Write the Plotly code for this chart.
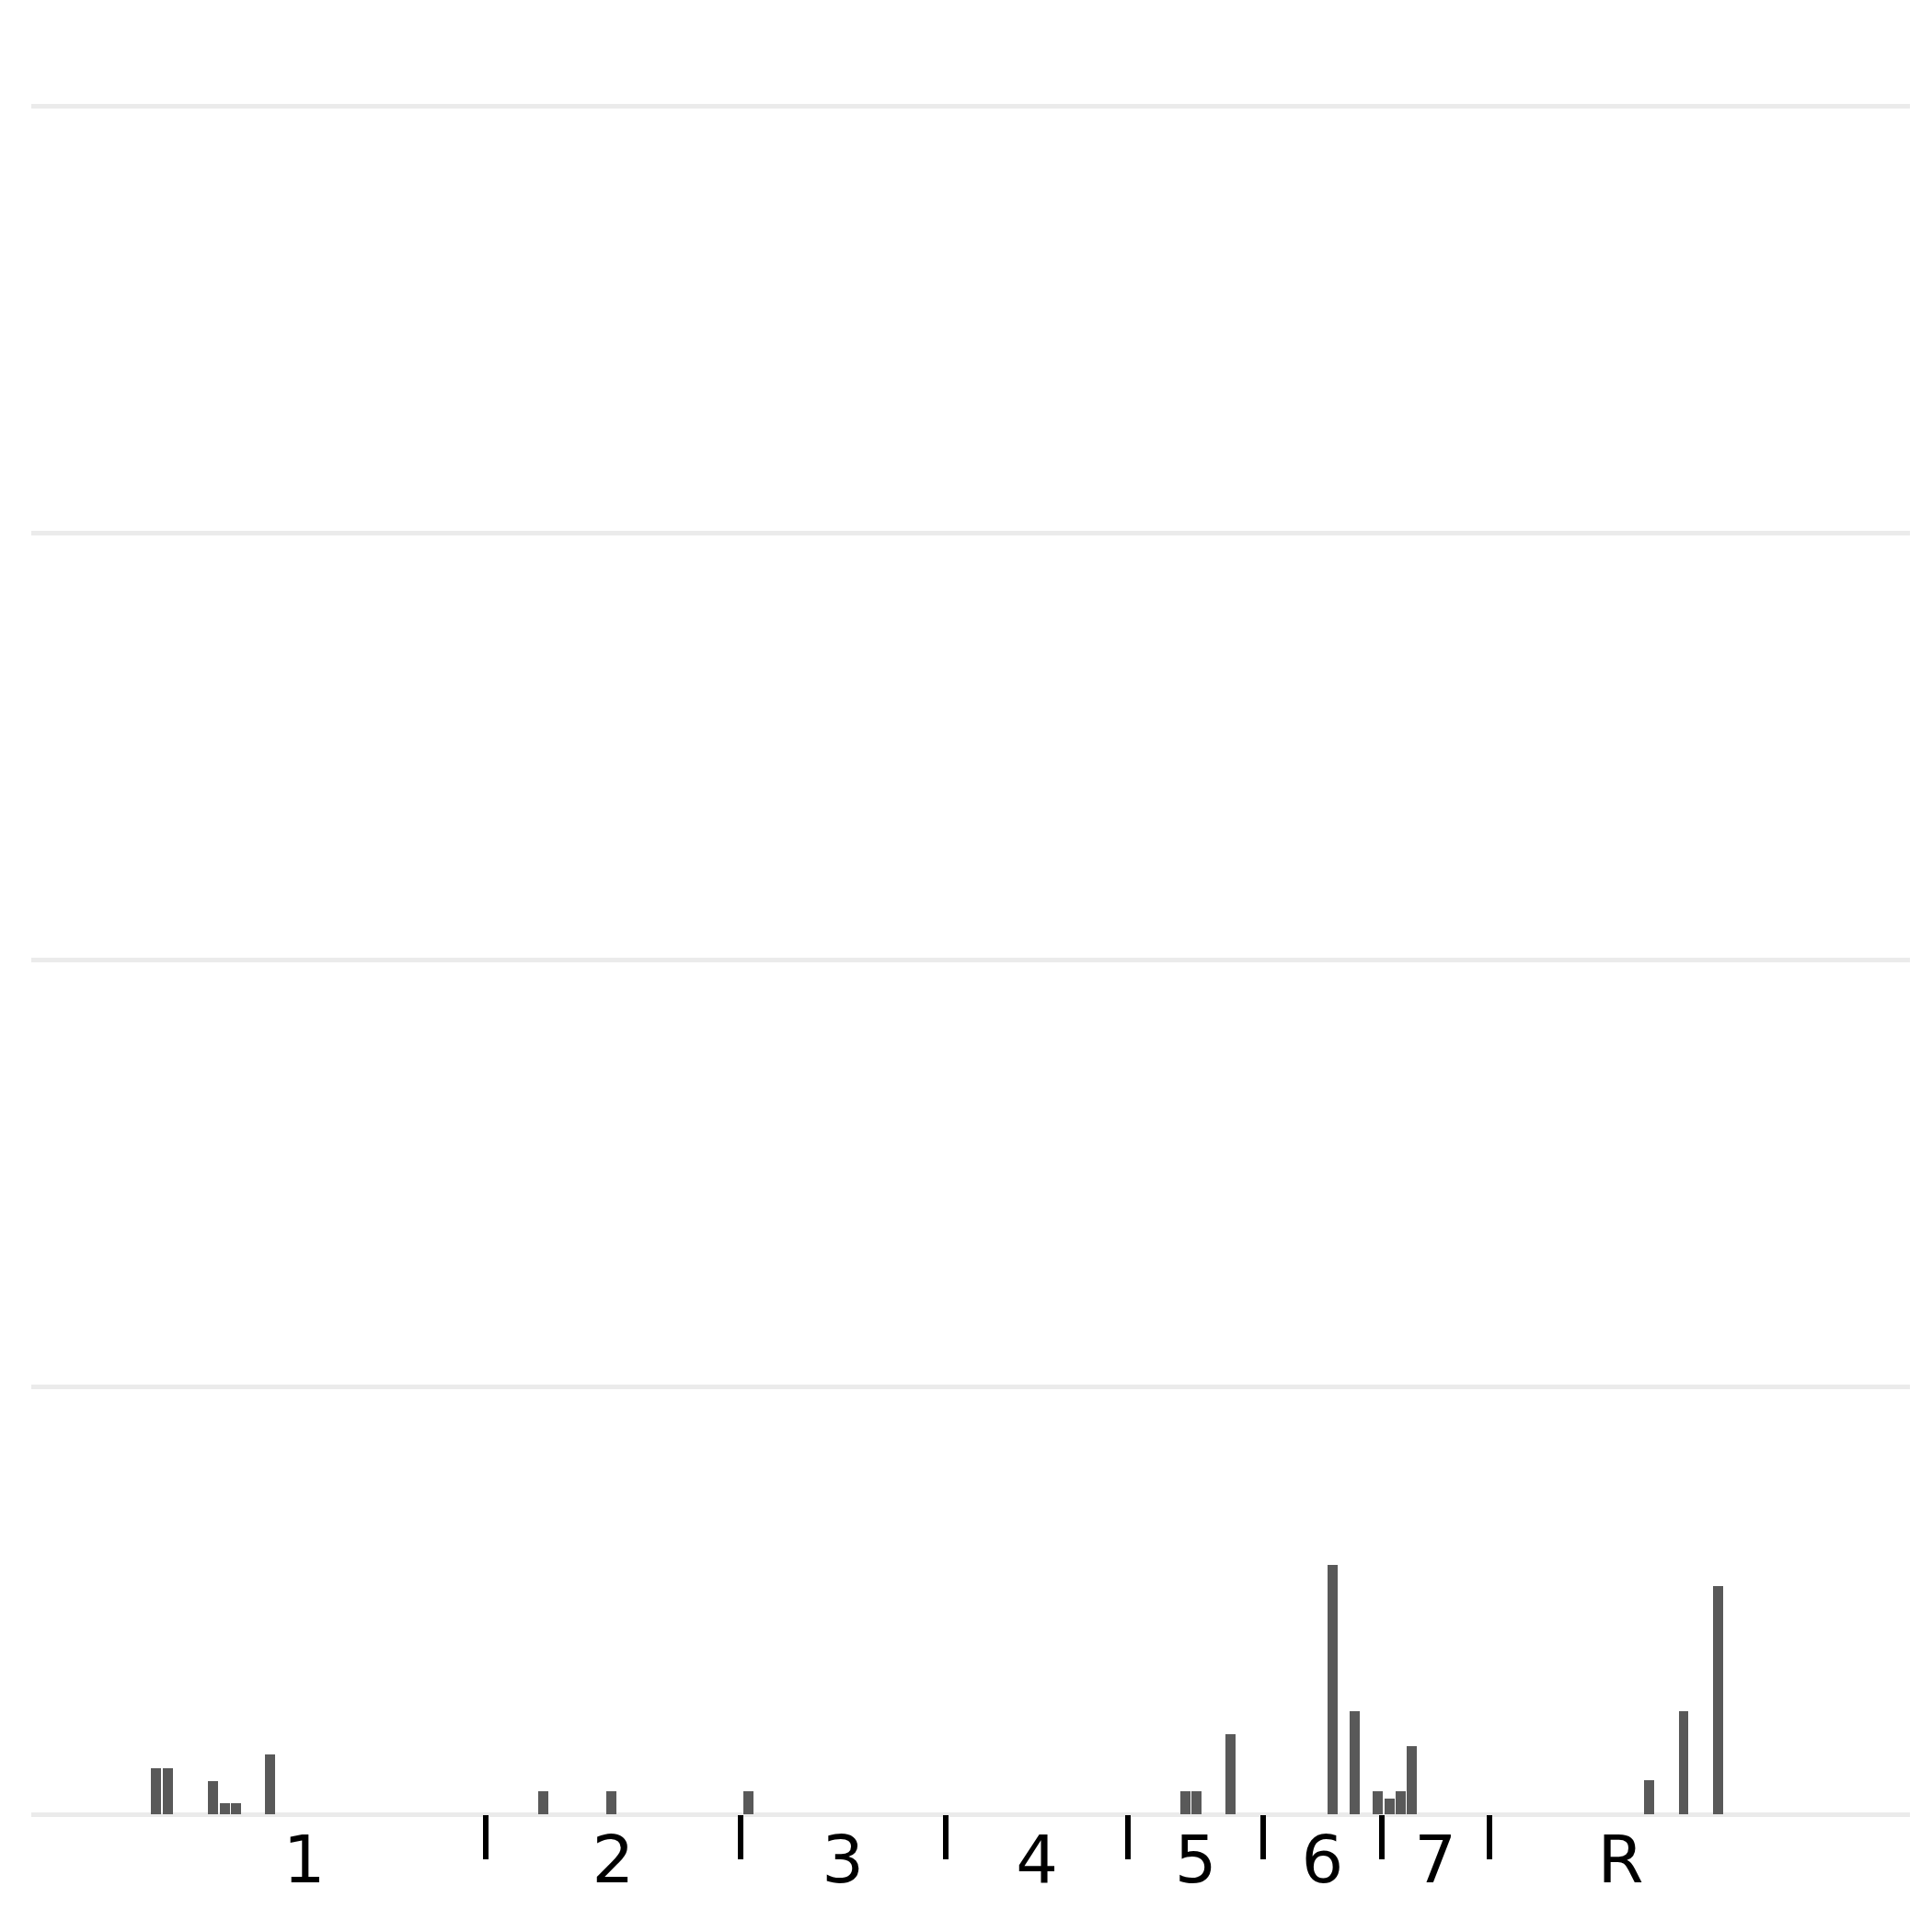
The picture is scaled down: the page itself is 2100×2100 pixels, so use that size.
import plotly.graph_objects as go

# Bar positions (x, arbitrary position units) and heights (y)
bar_x = [10.91, 11.96, 15.94, 16.96, 17.93, 20.91,
         44.88, 50.85,
         62.86,
         101.17, 102.14, 105.12,
         114.07, 116.01, 118.02,
         119.07, 120.04, 121.01,
         141.81, 144.84, 147.86]
bar_y = [1.07, 1.07, 0.78, 0.25, 0.25, 1.41,
         0.53, 0.53,
         0.53,
         0.53, 0.53, 1.87,
         5.85, 2.41, 0.53,
         0.36, 0.53, 1.59,
         0.79, 2.41, 5.34]

# Gear group boundaries along x and gear labels
group_bounds = [8.0, 39.85, 62.15, 80.15, 96.15, 108.0, 118.35, 127.8, 150.85]
gear_labels = ["1", "2", "3", "4", "5", "6", "7", "R"]

label_pos = [(a + b) / 2 for a, b in zip(group_bounds[:-1], group_bounds[1:])]
separators = group_bounds[1:-1]

X_RANGE = [0, 164.68]
Y_RANGE = [0, 42]

fig = go.Figure()
fig.add_trace(go.Bar(x=bar_x, y=bar_y, width=0.88,
                     marker=dict(color="#595959", line=dict(width=0)),
                     showlegend=False))
# invisible trace on the separator axis so that it is drawn
fig.add_trace(go.Scatter(x=[X_RANGE[0]], y=[0], xaxis="x2", mode="markers",
                         marker=dict(opacity=0), showlegend=False, hoverinfo="skip"))

fig.update_layout(
    width=2100, height=2100,
    margin=dict(l=34, r=24, t=23, b=128),
    paper_bgcolor="white", plot_bgcolor="white",
    font=dict(family="DejaVu Sans", size=72, color="black"),
    bargap=0,
    xaxis=dict(range=X_RANGE, tickvals=label_pos, ticktext=gear_labels,
               ticks="", showgrid=False, zeroline=False, showline=False,
               tickfont=dict(family="DejaVu Sans", size=72, color="black"),
               ticklabelstandoff=1),
    xaxis2=dict(range=X_RANGE, overlaying="x", side="bottom", anchor="y",
                tickvals=separators, showticklabels=False,
                ticks="outside", ticklen=48, tickwidth=5.5, tickcolor="black",
                showgrid=False, zeroline=False, showline=False),
    yaxis=dict(range=Y_RANGE, dtick=10, showticklabels=False, ticks="",
               showgrid=True, gridcolor="#ebebeb", gridwidth=4.5,
               zeroline=True, zerolinecolor="#ebebeb", zerolinewidth=4.5,
               showline=False),
)

fig.write_html("out.html")
